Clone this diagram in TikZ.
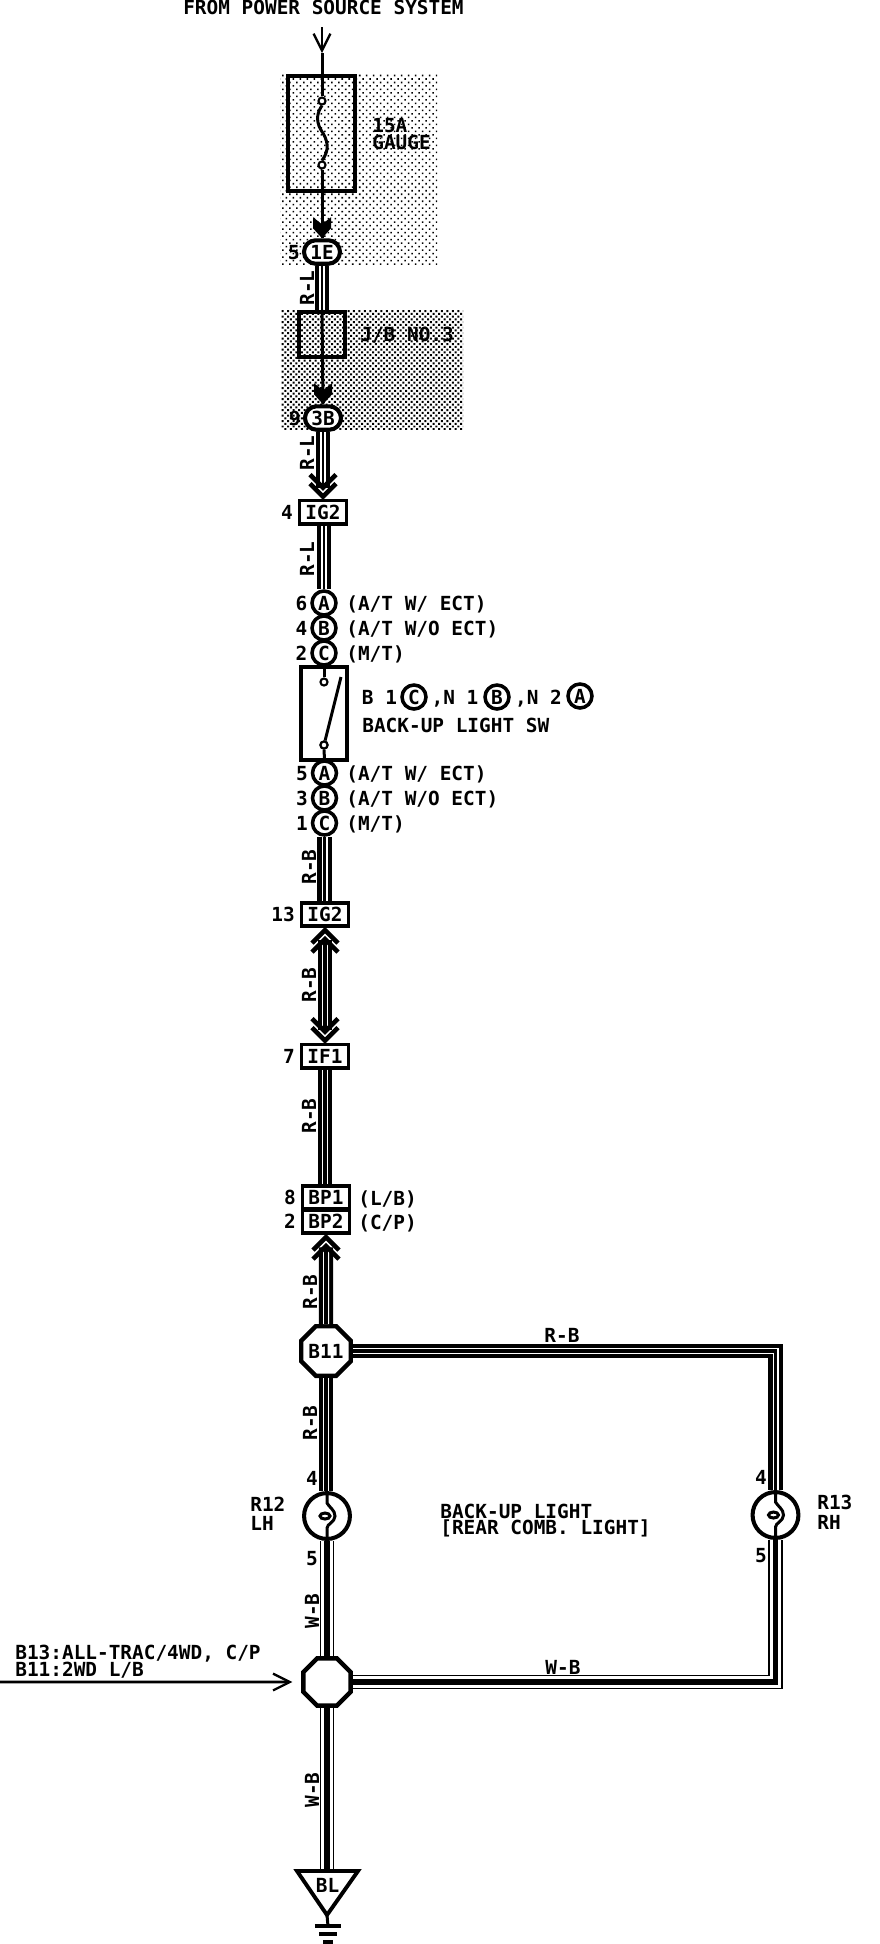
\documentclass[tikz,border=0pt]{standalone}
\usepackage{fontspec}
\setmainfont{DejaVu Sans Mono}
\usetikzlibrary{arrows.meta,positioning,patterns.meta,shapes.misc,shapes.geometric}

\tikzset{
	lbl/.style={font=\fontsize{11}{11}\selectfont\bfseries,inner sep=0pt,text height=8pt,text depth=0pt},
	wirelbl/.style={lbl,rotate=90},
	conbox/.style={lbl,draw,line width=2pt,rectangle,minimum width=26.9pt,minimum height=13.3pt,fill=white},
	concirc/.style={lbl,draw,line width=2pt,circle,minimum size=13.6pt,fill=white},
	conpill/.style={lbl,draw,line width=2.3pt,rounded rectangle,minimum width=20.4pt,minimum height=13.3pt,fill=white},
	conocta/.style={lbl,draw,line width=2.5pt,regular polygon,regular polygon sides=8,minimum size=29pt,fill=white},
	bulb/.style={draw,line width=2.3pt,circle,inner sep=0pt,minimum size=26pt,fill=white},
	symbox/.style={draw,line width=2.3pt,rectangle,inner sep=0pt},
	term/.style={draw,line width=1.2pt,circle,inner sep=0pt,minimum size=4pt,fill=white},
	thinwire/.style={line width=1.7pt},
	wireRL/.style={line width=7.9pt,postaction={draw,white,line width=3.7pt},postaction={draw,black,line width=1.4pt}},
	wireRB/.style={line width=8.2pt,postaction={draw,white,line width=3.4pt},postaction={draw,black,line width=2.2pt}},
	wireWB/.style={line width=8.2pt,postaction={draw,white,line width=6.6pt},postaction={draw,black,line width=3.2pt}},
	chevline/.style={line width=2.6pt,miter limit=4},
	barb/.style={-{Straight Barb[length=9.5pt,width=9.5pt,line width=1.3pt]},line width=1.5pt}
}
\newcommand{\chevs}[2]{\draw[chevline,shift={(#1)},rotate=#2] (-13,-24)--(0,-11)--(13,-24) (-13,-15)--(0,-2)--(13,-15);}
\newcommand{\solidchev}[1]{\fill[shift={(#1)}] (-9,-21)--(0,-14)--(9,-21)--(9,-10)--(0,0)--(-9,-10)--cycle;}
\newcommand{\filament}[1]{\draw[thinwire,shift={(#1)}] (0,-24)--(0,-13) .. controls (2,-9) and (8,-6) .. (8,0) .. controls (8,6) and (0,8) .. (0,12)--(0,24);
	\draw[thinwire,shift={(#1)}] (-2,0) ellipse (5 and 3);}

\begin{document}
\begin{tikzpicture}[x=0.5669pt,y=-0.5669pt]

\path[use as bounding box] (0,0) rectangle (880,1944);

\fill[pattern={Dots[distance=2.8pt,angle=45,radius=0.62pt]}] (280,74) rectangle (437,264);
\fill[pattern={Dots[distance=2.2pt,angle=45,radius=0.8pt]}] (281,310) rectangle (463,429);

\node[lbl] (title) at (323.5,7) {FROM POWER SOURCE SYSTEM};
\coordinate (srcTop) at (322,27);
\coordinate (topTip) at (322,53);

\node[symbox,minimum width=38pt,minimum height=65pt] (fuseBox) at (321.5,133.5) {};
\node[term] (fuseIn) at (322,101) {};
\node[term] (fuseOut) at (322,165) {};
\node[lbl,anchor=west] (fuseAmp) at (372,125) {15A};
\node[lbl,anchor=west] (fuseName) at (372,142) {GAUGE};

\node[conpill] (n1E) at (322,252) {1E};
\node[lbl,left=1pt of n1E] (p1E) {5};

\node[symbox,minimum width=26.6pt,minimum height=25.5pt] (jbBox) at (322,334.5) {};
\node[lbl,anchor=west] (jbName) at (360,334) {J/B NO.3};

\node[conpill] (n3B) at (323,418) {3B};
\node[lbl,left=1pt of n3B] (p3B) {9};

\node[conbox] (nIG2a) at (323,512) {IG2};
\node[lbl,left=2.5pt of nIG2a] (pIG2a) {4};

\node[concirc] (swA) at (324,603) {A};
\node[concirc] (swB) at (324,628) {B};
\node[concirc] (swC) at (324,653) {C};
\node[lbl,left=1.5pt of swA] (pswA) {6};
\node[lbl,left=1.5pt of swB] (pswB) {4};
\node[lbl,left=1.5pt of swC] (pswC) {2};
\node[lbl,anchor=west] (ctA) at (346,603) {(A/T W/ ECT)};
\node[lbl,anchor=west] (ctB) at (346,628) {(A/T W/O ECT)};
\node[lbl,anchor=west] (ctC) at (346,653) {(M/T)};

\node[symbox,minimum width=26pt,minimum height=52.7pt] (swBox) at (324,713.5) {};
\node[term] (swIn) at (324,682) {};
\node[term] (swOut) at (324,745) {};

\node[lbl] (bOne) at (379.5,697) {B 1};
\node[concirc] (keyC) at (414,697) {C};
\node[lbl] (nOne) at (455,697) {,N 1};
\node[concirc] (keyB) at (497,697) {B};
\node[lbl] (nTwo) at (538.5,697) {,N 2};
\node[concirc] (keyA) at (580,696) {A};
\node[lbl,anchor=west] (swName) at (362,725) {BACK-UP LIGHT SW};

\node[concirc] (soA) at (324.5,773) {A};
\node[concirc] (soB) at (324.5,798) {B};
\node[concirc] (soC) at (324.5,823) {C};
\node[lbl,left=1.5pt of soA] (psoA) {5};
\node[lbl,left=1.5pt of soB] (psoB) {3};
\node[lbl,left=1.5pt of soC] (psoC) {1};
\node[lbl,anchor=west] (stA) at (346,773) {(A/T W/ ECT)};
\node[lbl,anchor=west] (stB) at (346,798) {(A/T W/O ECT)};
\node[lbl,anchor=west] (stC) at (346,823) {(M/T)};

\node[conbox] (nIG2b) at (325,914.5) {IG2};
\node[lbl,left=2.5pt of nIG2b] (pIG2b) {13};
\node[conbox] (nIF1) at (325,1056) {IF1};
\node[lbl,left=2.5pt of nIF1] (pIF1) {7};
\node[conbox] (nBP1) at (326,1197.5) {BP1};
\node[conbox] (nBP2) at (326,1221.5) {BP2};
\node[lbl,left=2.5pt of nBP1] (pBP1) {8};
\node[lbl,left=2.5pt of nBP2] (pBP2) {2};
\node[lbl,anchor=west] (tBP1) at (358,1198) {(L/B)};
\node[lbl,anchor=west] (tBP2) at (358,1222) {(C/P)};

\node[conocta] (b11) at (326,1351) {B11};
\node[bulb] (r12) at (327,1516) {};
\node[bulb] (r13) at (775.5,1515) {};
\node[conocta] (octLow) at (327,1682) {};

\coordinate (blTip) at (327,1915);
\coordinate (blTop) at (327,1871);
\node[lbl] (nBL) at (327.5,1885) {BL};
\coordinate (gndA) at (328,1926);
\coordinate (gndB) at (328,1934);
\coordinate (gndC) at (328,1942);
\coordinate (earFree) at (0,1682);

\draw[barb] (srcTop) -- (topTip);
\draw[thinwire] (topTip) -- (fuseIn.north);
\draw[thinwire] (fuseIn.south) .. controls (318,111) and (315,120) .. (321,130) .. controls (328,140) and (330,150) .. (fuseOut.north);
\draw[thinwire] (fuseOut.south) -- (n1E.north);
\solidchev{n1E.north}

\draw[wireRL] (n1E.south) -- (jbBox.north);
\draw[thinwire] (jbBox.north) -- (n3B.north);
\solidchev{n3B.north}

\draw[wireRL,shorten >=6pt] (n3B.south) -- (nIG2a.north);
\chevs{nIG2a.north}{0}
\draw[wireRL] (swA.north |- nIG2a.south) -- (swA.north);

\draw[thinwire] (swC.south) -- (swIn.north);
\draw[thinwire] (swOut.south) -- (soA.north);
\draw[line width=1.7pt] (swOut) -- (341,677);
\node[term] at (swOut) {};

\draw[wireRB] (soC.south) -- (soC.south |- nIG2b.north);
\draw[wireRB,shorten <=7pt,shorten >=7pt] (nIG2b.south) -- (nIF1.north);
\chevs{nIG2b.south}{180}
\chevs{nIF1.north}{0}
\draw[wireRB] (nIF1.south) -- (nIF1.south |- nBP1.north);
\draw[wireRB,shorten >=7pt] (b11.north) -- (nBP2.south);
\chevs{nBP2.south}{180}

\draw[wireRB] (b11.south) -- (b11.south |- r12.north);
\draw[wireRB] (b11.east) -| (r13.north);
\draw[wireWB] (r12.south) -- (octLow.north);
\draw[wireWB] (r13.south) |- (octLow.east);
\draw[wireWB] (octLow.south) -- (blTop);

\filament{r12}
\filament{r13}

\draw[barb,shorten >=5pt] (earFree) -- (octLow.west);

\draw[line width=2.2pt] (297,1871) -- (358,1871) -- (blTip) -- cycle;
\draw[thinwire] (blTip) -- (gndA);
\draw[line width=2.4pt] ([xshift=-7.5pt]gndA) -- ([xshift=7.5pt]gndA);
\draw[line width=1.8pt] ([xshift=-5pt]gndB) -- ([xshift=5pt]gndB);
\draw[line width=1.8pt] ([xshift=-2.8pt]gndC) -- ([xshift=2.8pt]gndC);

\node[wirelbl] (wlA) at (307,288) {R-L};
\node[wirelbl] (wlB) at (307,453) {R-L};
\node[wirelbl] (wlC) at (307,559) {R-L};
\node[wirelbl] (wlD) at (309,867) {R-B};
\node[wirelbl] (wlE) at (309,985) {R-B};
\node[wirelbl] (wlF) at (309,1116) {R-B};
\node[wirelbl] (wlG) at (310,1292) {R-B};
\node[wirelbl] (wlH) at (310,1423) {R-B};
\node[wirelbl] (wlI) at (312,1611) {W-B};
\node[wirelbl] (wlJ) at (312,1790) {W-B};
\node[lbl] (wlK) at (562,1335) {R-B};
\node[lbl] (wlL) at (563,1667) {W-B};

\node[lbl] (p4L) at (312,1478) {4};
\node[lbl] (p5L) at (312,1558) {5};
\node[lbl] (p4R) at (761,1477) {4};
\node[lbl] (p5R) at (761,1555) {5};
\node[lbl,anchor=west] (tR12) at (250,1504) {R12};
\node[lbl,anchor=west] (tLH) at (250,1523) {LH};
\node[lbl,anchor=west] (tR13) at (817,1502) {R13};
\node[lbl,anchor=west] (tRH) at (817,1522) {RH};
\node[lbl,anchor=west] (tBack) at (440,1511) {BACK-UP LIGHT};
\node[lbl,anchor=west] (tRear) at (440,1527) {[REAR COMB. LIGHT]};
\node[lbl,anchor=west] (tEarA) at (15,1652) {B13:ALL-TRAC/4WD, C/P};
\node[lbl,anchor=west] (tEarB) at (15,1669) {B11:2WD L/B};

\end{tikzpicture}
\end{document}
